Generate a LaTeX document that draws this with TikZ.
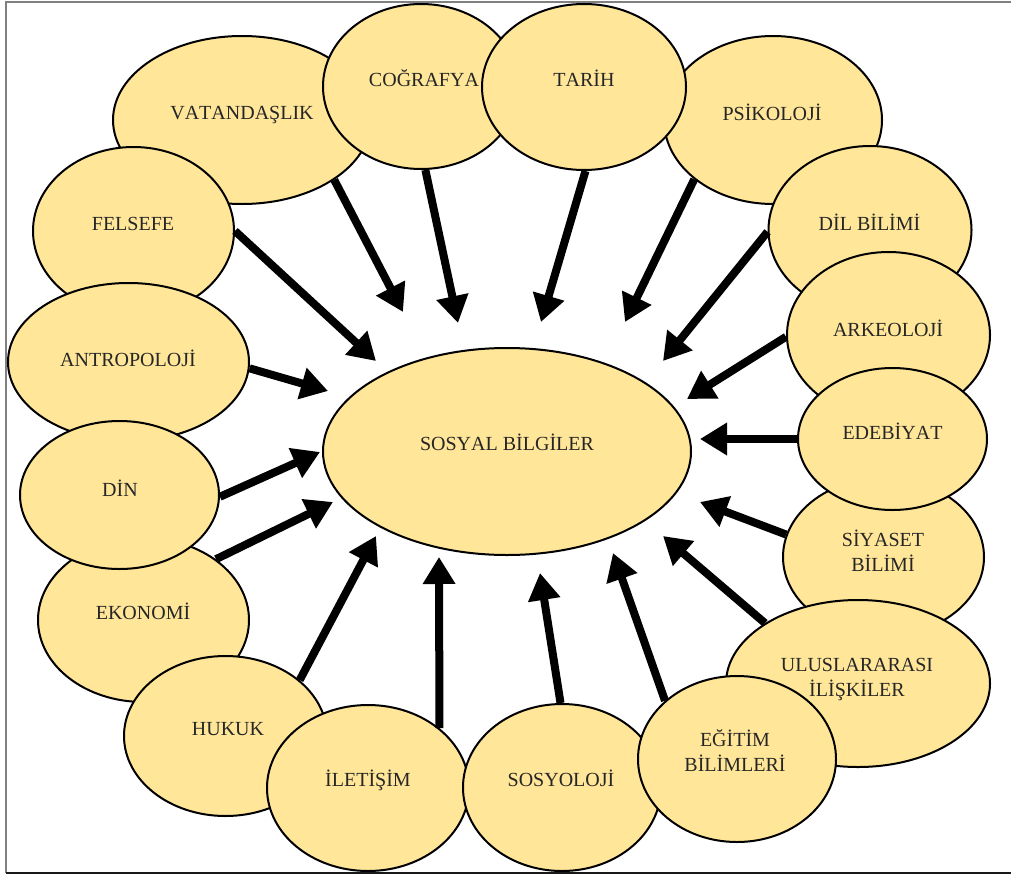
\documentclass[tikz,border=0pt]{standalone}
\usepackage{fontspec}
\setmainfont{Liberation Serif}[Kerning=Off]
\usetikzlibrary{shapes.geometric,arrows.meta}
\definecolor{discfill}{HTML}{FFE699}
\definecolor{txt}{HTML}{262626}
\newcommand{\Disc}[5]{\node[disc, minimum width={2*#4pt}, minimum height={2*#5pt}] (#1) at (#2,#3) {};}
\begin{document}
\begin{tikzpicture}[x=1pt,y=-1pt,
  disc/.style={ellipse, draw=black, line width=2pt, fill=discfill, inner sep=0pt},
  lbl/.style={anchor=base, text=txt, font=\fontsize{20}{24}\selectfont, inner sep=0pt},
  arr/.style={line width=8pt, -{Triangle[length=27pt,width=31pt]}},
  frame/.style={line width=1.5pt}]
\useasboundingbox (0,0) rectangle (1011,875);
\fill[white] (0,0) rectangle (1011,875);
% frame
\draw[frame, color=black!50] (6,873) -- (6,2) -- (1011,2);
\draw[frame, color=black!90] (6,873) -- (1011,873);
% ellipses (drawing order = stacking order)
\Disc{vat}{242}{120}{129}{84}
\Disc{fel}{133.5}{231}{100.5}{84}
\Disc{ant}{128.5}{362}{120.5}{79}
\Disc{eko}{143.5}{620}{105.5}{82}
\Disc{din}{119.5}{495}{99.5}{74}
\Disc{huk}{225.5}{736}{101.5}{80}
\Disc{ile}{368}{788}{101}{83}
\Disc{sos}{562}{787.5}{99}{83.5}
\Disc{cog}{421}{86.5}{98}{82.5}
\Disc{psi}{773}{120}{109}{84}
\Disc{tar}{584}{87}{102}{83}
\Disc{dil}{870}{230}{101.5}{84}
\Disc{ark}{888.5}{335}{101.5}{83}
\Disc{siy}{883.5}{557}{100.5}{79}
\Disc{ede}{892.5}{439}{94.5}{71}
\Disc{ulu}{858}{683.5}{132}{83.5}
\Disc{egi}{737}{759}{99}{83}
\Disc{sb}{507}{451.5}{184}{103.5}
% labels
\node[lbl] (vat-t) at (242,119) {VATANDAŞLIK};
\node[lbl] (fel-t) at (133,230.7) {FELSEFE};
\node[lbl] (ant-t) at (128,366.7) {ANTROPOLOJİ};
\node[lbl] (din-t) at (120,496) {DİN};
\node[lbl] (eko-t) at (143,619.3) {EKONOMİ};
\node[lbl] (huk-t) at (228,735.7) {HUKUK};
\node[lbl] (ile-t) at (368,786.7) {İLETİŞİM};
\node[lbl] (sos-t) at (561,786.7) {SOSYOLOJİ};
\node[lbl] (egi-t1) at (735,746.7) {EĞİTİM};
\node[lbl] (egi-t2) at (735,771) {BİLİMLERİ};
\node[lbl] (ulu-t1) at (857,671) {ULUSLARARASI};
\node[lbl] (ulu-t2) at (857,696) {İLİŞKİLER};
\node[lbl] (siy-t1) at (883,546) {SİYASET};
\node[lbl] (siy-t2) at (883,571.7) {BİLİMİ};
\node[lbl] (ede-t) at (892.5,439.3) {EDEBİYAT};
\node[lbl] (ark-t) at (888,336) {ARKEOLOJİ};
\node[lbl] (dil-t) at (869.5,230) {DİL BİLİMİ};
\node[lbl] (psi-t) at (772,120) {PSİKOLOJİ};
\node[lbl] (tar-t) at (584,86.7) {TARİH};
\node[lbl] (cog-t) at (424,86) {COĞRAFYA};
\node[lbl] (sb-t) at (507,450.7) {SOSYAL BİLGİLER};
% arrow tips
\coordinate (t-vat) at (403,312);
\coordinate (t-cog) at (458,323);
\coordinate (t-tar) at (541,322);
\coordinate (t-psi) at (625,322);
\coordinate (t-dil) at (663,361);
\coordinate (t-ark) at (687,399);
\coordinate (t-ede) at (700,439);
\coordinate (t-siy) at (700,502);
\coordinate (t-ulu) at (663,536);
\coordinate (t-egi) at (613,553);
\coordinate (t-sos) at (540,573);
\coordinate (t-ile) at (439,557);
\coordinate (t-huk) at (376,536);
\coordinate (t-eko) at (333,502);
\coordinate (t-din) at (320,452);
\coordinate (t-ant) at (328,391);
\coordinate (t-fel) at (376,361);
% arrows
\draw[arr] (vat.-33) -- (t-vat);
\draw[arr] (cog.-87) -- (t-cog);
\draw[arr] (tar.-89) -- (t-tar);
\draw[arr] (psi.-143) -- (t-psi);
\draw[arr] (dil.-179) -- (t-dil);
\draw[arr] (ark.-179) -- (t-ark);
\draw[arr] (ede.180) -- (t-ede);
\draw[arr] (siy.167) -- (t-siy);
\draw[arr] (ulu.147) -- (t-ulu);
\draw[arr] (egi.141) -- (t-egi);
\draw[arr] (sos.91) -- (t-sos);
\draw[arr] (ile.40) -- (t-ile);
\draw[arr] (huk.37) -- (t-huk);
\draw[arr] (eko.40) -- (t-eko);
\draw[arr] (din.-1) -- (t-din);
\draw[arr] (ant.-3) -- (t-ant);
\draw[arr] (fel.0) -- (t-fel);
\end{tikzpicture}
\end{document}
